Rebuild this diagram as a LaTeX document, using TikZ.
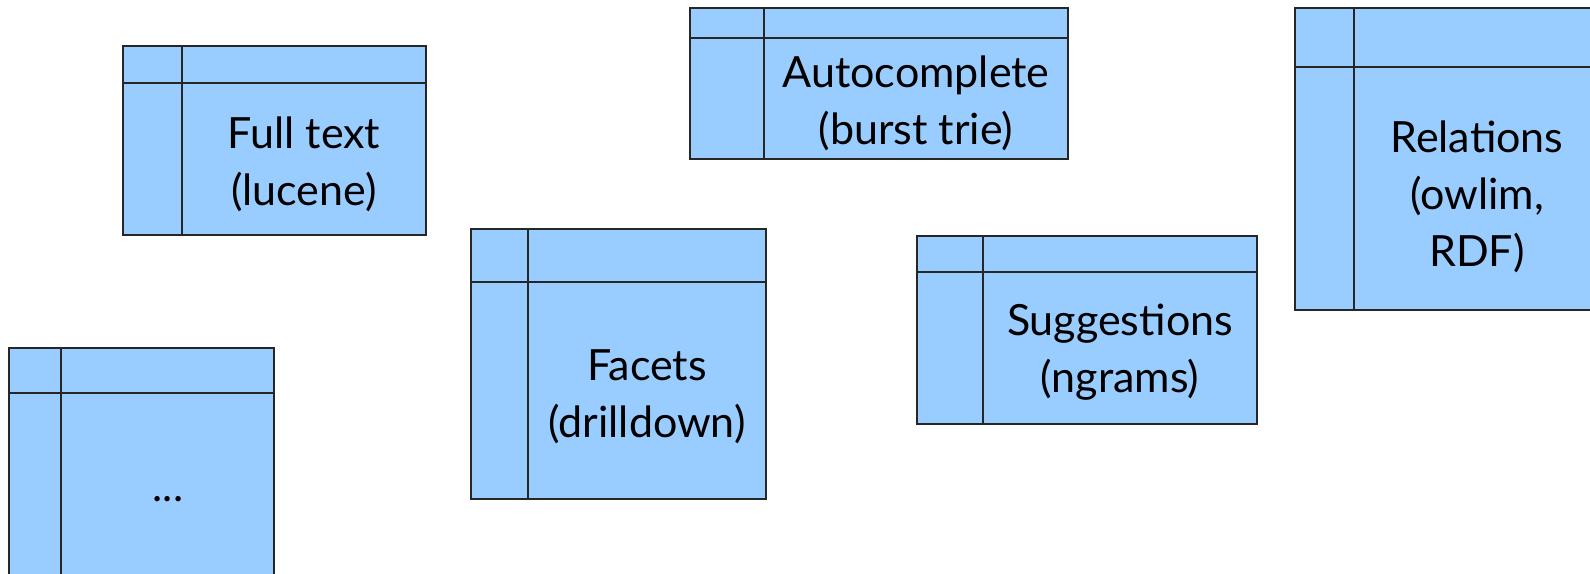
\documentclass[tikz,border=0pt]{standalone}
\usepackage{fontspec}
\setmainfont{Lato}
\usepackage{tikz}
\usepackage{xcolor}

\definecolor{tablefill}{HTML}{99CCFF}

\tikzset{
    tablebox/.style={draw=black!85, fill=tablefill, line width=1.2pt},
    tableline/.style={draw=black!85, line width=1.2pt},
    tabletext/.style={align=center, inner sep=0pt, font=\fontsize{43}{57}\selectfont}
}

\begin{document}
\begin{tikzpicture}[x=1pt, y=-1pt]
                \useasboundingbox (0, 0) rectangle (1590, 573);
                \clip (0, 0) rectangle (1590, 573);

                % full text
                \draw[tablebox] (123, 46) rectangle (426, 235);
                \draw[tableline]
                (182, 46) -- (182, 235)
                (123, 83) -- (426, 83);
                \node[tabletext] (fulltext) at (304, 164) {Full text\\(lucene)};

                % autocomplete
                \draw[tablebox] (690, 8) rectangle (1068, 159);
                \draw[tableline]
                (764, 8) -- (764, 159)
                (690, 38) -- (1068, 38);
                \node[tabletext] (autocomplete) at (916, 103) {Autocomplete\\(burst trie)};

                % relations
                \draw[tablebox] (1295, 8) rectangle (1600, 310);
                \draw[tableline]
                (1354, 8) -- (1354, 310)
                (1295, 67) -- (1600, 67);
                \node[tabletext] (relations) at (1477, 197) {Relations\\(owlim,\\RDF)};

                % facets
                \draw[tablebox] (471, 229) rectangle (766, 499);
                \draw[tableline]
                (528, 229) -- (528, 499)
                (471, 282) -- (766, 282);
                \node[tabletext] (facets) at (647, 397) {Facets\\(drilldown)};

                % suggestions
                \draw[tablebox] (917, 236) rectangle (1257, 424);
                \draw[tableline]
                (983, 236) -- (983, 424)
                (917, 272) -- (1257, 272);
                \node[tabletext] (suggestions) at (1120, 352) {Suggestions\\(ngrams)};

                % more
                \draw[tablebox] (9, 348) rectangle (274, 605);
                \draw[tableline]
                (61, 348) -- (61, 605)
                (9, 393) -- (274, 393);
                \node[tabletext] (more) at (168, 499) {...};
            \end{tikzpicture}
\end{document}
